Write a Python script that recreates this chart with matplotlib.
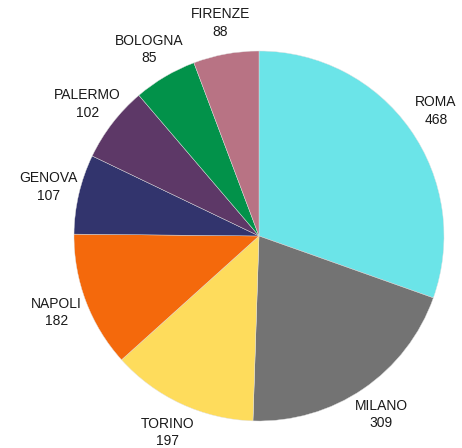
import matplotlib
matplotlib.use("Agg")
import matplotlib.pyplot as plt
import numpy as np

cities = ["ROMA", "MILANO", "TORINO", "NAPOLI", "GENOVA", "PALERMO", "BOLOGNA", "FIRENZE"]
values = [468, 309, 197, 182, 107, 102, 85, 88]
colors = ["#6BE4E8", "#737373", "#FEDC5C", "#F4690C", "#32346D", "#5D3867", "#02924A", "#B87384"]

plt.rcParams['font.family'] = ['Liberation Sans', 'DejaVu Sans']

fig = plt.figure(figsize=(4.62, 4.48), dpi=100)
r_px = 185
cx, cy = 259, 448 - 236
ax = fig.add_axes([(cx - r_px) / 462, (cy - r_px) / 448, 2 * r_px / 462, 2 * r_px / 448])

wedges, _ = ax.pie(values, colors=colors, startangle=90, counterclock=False,
                   radius=1, wedgeprops=dict(linewidth=0.3, edgecolor="#e0e0e0"))
ax.set_xlim(-1, 1)
ax.set_ylim(-1, 1)
ax.set_aspect("equal")
ax.axis("off")

for w, name, v in zip(wedges, cities, values):
    ang = np.deg2rad((w.theta1 + w.theta2) / 2)
    d = 1.17
    ax.text(d * np.cos(ang), d * np.sin(ang), f"{name}\n{v}", ha="center", va="center",
            fontsize=10, color="#1a1a1a", linespacing=1.3, clip_on=False)

fig.savefig("out.png", dpi=100)
